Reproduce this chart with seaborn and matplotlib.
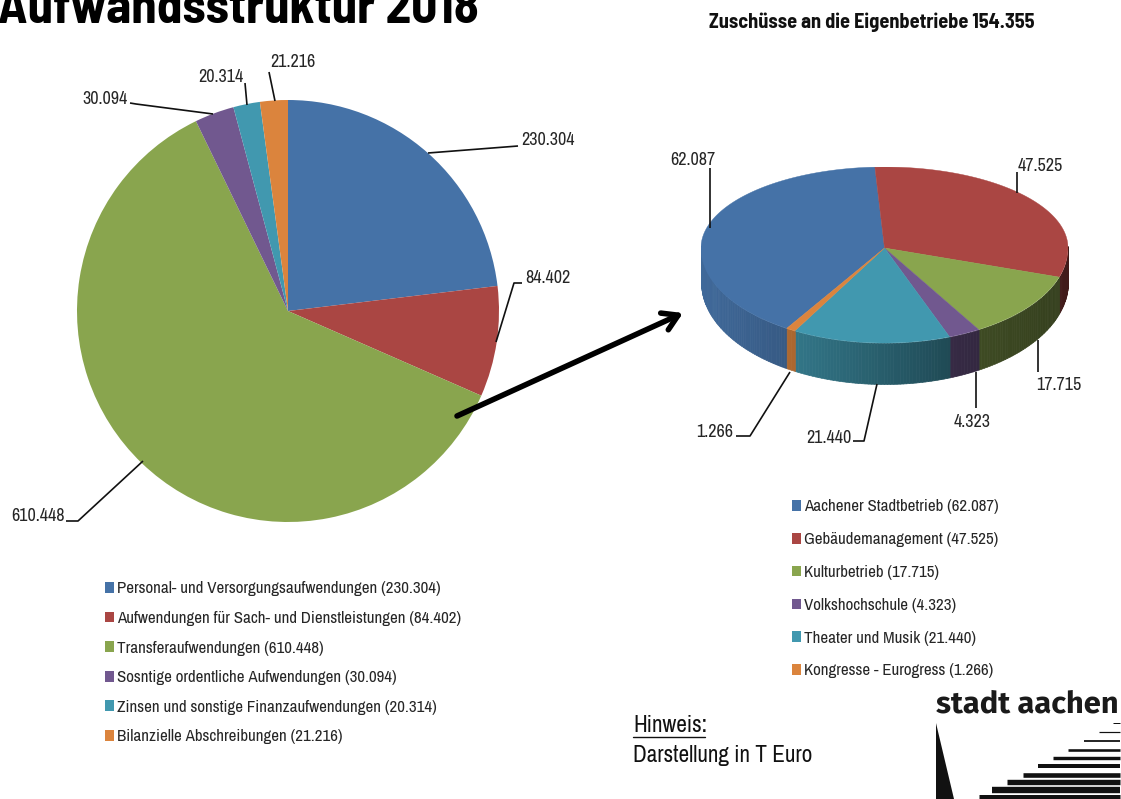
#!/usr/bin/env python3
import numpy as np
import matplotlib
matplotlib.use("Agg")
import matplotlib.pyplot as plt
import seaborn as sns
from matplotlib.patches import Patch

W, H = 1121, 799

# left pie
left_labels = ["Personal- und Versorgungsaufwendungen", "Aufwendungen für Sach- und Dienstleistungen",
               "Transferaufwendungen", "Sosntige ordentliche Aufwendungen",
               "Zinsen und sonstige Finanzaufwendungen", "Bilanzielle Abschreibungen"]
left_values = [230.304, 84.402, 610.448, 30.094, 20.314, 21.216]

# right pie
right_labels = ["Aachener Stadtbetrieb", "Gebäudemanagement", "Kulturbetrieb",
                "Volkshochschule", "Theater und Musik", "Kongresse - Eurogress"]
right_values = [62.087, 47.525, 17.715, 4.323, 21.440, 1.266]

colors = ["#4572A7", "#AA4643", "#89A54E", "#71588F", "#4198AF", "#DB843D"]


def fmt(v):
    return f"{v:.3f}"


def box(fig, x0, y0, x1, y1):
    # axes from pixel box, y measured from the top
    return fig.add_axes([x0 / W, 1 - y1 / H, (x1 - x0) / W, (y1 - y0) / H])


sns.set_theme(style="white")
plt.rcParams["font.family"] = ["Archivo Narrow", "Liberation Sans"]
palette = sns.color_palette(colors)
bold_font = ["Barlow Semi Condensed", "Liberation Sans"]

fig = plt.figure(figsize=(W / 100, H / 100), dpi=100, facecolor="white")

# -------- left pie --------
ax_l = box(fig, 77, 100, 499, 522)
wedges, _ = ax_l.pie(left_values, colors=palette, startangle=90, counterclock=False,
                     radius=1, wedgeprops={"linewidth": 0})
ax_l.set_xlim(-1, 1)
ax_l.set_ylim(-1, 1)

# -------- right pie, tilted with a side wall --------
# x in radii, y in pixels above the apex; the near half is a bit deeper (perspective)
ax_r = box(fig, 701, 167, 1068, 385)
ry_far, ry_near = 81.0, 95.0
ax_r.set_xlim(-1, 1)
ax_r.set_ylim(-137, 81)
ax_r.set_axis_off()


def tilt_y(t):
    s = np.sin(t)
    return s * np.where(s > 0, ry_far, ry_near)


fracs = np.array(right_values) / sum(right_values)
# the red/blue border sits just left of 12 o'clock, slices run clockwise
start = np.radians(93.0) + 2 * np.pi * fracs[0]
edges = start - 2 * np.pi * np.concatenate([[0], np.cumsum(fracs)])
for col, a0, a1 in zip(palette, edges[:-1], edges[1:]):
    t = np.linspace(a0, a1, max(int(np.degrees(a0 - a1)), 2) + 1)
    # wall, shaded left to right
    for s0, s1 in zip(t[:-1], t[1:]):
        if np.sin((s0 + s1) / 2) > 0.03:
            continue
        pair = np.array([s1, s0])
        xs = np.cos(pair)
        ys = tilt_y(pair)
        dep = 34 + 7 * np.abs(np.sin(pair))
        shade = np.interp(xs.mean(), [-1, -0.5, 0.4, 1], [0.92, 0.78, 0.47, 0.38])
        c = tuple(v * shade for v in col)
        ax_r.fill_between(xs, ys - dep, ys, color=c, linewidth=0.5, antialiased=False, zorder=1)
for col, a0, a1 in zip(palette, edges[:-1], edges[1:]):
    t = np.linspace(a0, a1, 200)
    ax_r.fill(np.r_[0, np.cos(t)], np.r_[0, tilt_y(t)], color=col, linewidth=0.3, zorder=2)

# -------- pixel overlay for texts, leaders, logo --------
ax = fig.add_axes([0, 0, 1, 1], facecolor="none")
ax.set_xlim(0, W)
ax.set_ylim(H, 0)
ax.set_axis_off()

ax.text(-2, 23, "Aufwandsstruktur 2018", family=bold_font, fontsize=36.9, fontweight="bold",
        color="black", va="baseline", ha="left")
ax.text(709, 22, "Zuschüsse an die Eigenbetriebe 154.355", family=bold_font, fontsize=14.6,
        fontweight="bold", color="#111111", va="center", ha="left")

lab_col = "#262626"
left_pos = [(521, 140), (525, 278), (11, 516), (82, 99), (198, 77), (270, 62)]
right_pos = [(670, 160), (1018, 166), (1036, 385), (954, 422), (806, 438), (696, 432)]
for vals, pos in [(left_values, left_pos), (right_values, right_pos)]:
    for v, (x, y) in zip(vals, pos):
        ax.text(x, y, fmt(v), fontsize=13, color=lab_col, ha="left", va="center")

leaders = [
    [(428, 153), (518, 146)],
    [(522, 283), (514, 283), (496, 342)],
    [(66, 521), (78, 521), (143, 461)],
    [(130, 103), (136, 104), (213, 114)],
    [(245, 83), (247, 105)],
    [(269, 72), (275, 101)],
    [(710, 168), (710, 228)],
    [(1017, 172), (1017, 193)],
    [(1038, 340), (1038, 372)],
    [(976, 372), (976, 408)],
    [(877, 384), (864, 441), (853, 441)],
    [(790, 372), (750, 436), (736, 436)],
]
for pts in leaders:
    xs, ys = zip(*pts)
    ax.plot(xs, ys, color="#111111", lw=1.2, solid_capstyle="butt")

ax.annotate("", xy=(683, 313), xytext=(457, 416),
            arrowprops=dict(arrowstyle="->,head_length=0.9,head_width=0.55", lw=4,
                            color="black", shrinkA=0, shrinkB=0))

# legends
for labs, vals, x, y, sp in [(left_labels, left_values, 105, 581.5, 0.86),
                             (right_labels, right_values, 792, 499.5, 1.05)]:
    handles = [Patch(facecolor=c, edgecolor="none") for c in palette]
    texts = [f"{a} ({fmt(b)})" for a, b in zip(labs, vals)]
    fig.legend(handles, texts, loc="upper left", bbox_to_anchor=(x / W, 1 - y / H),
               frameon=False, fontsize=12.2, labelcolor=lab_col, handlelength=0.55,
               handleheight=0.6, handletextpad=0.18, labelspacing=sp,
               borderpad=0, borderaxespad=0)

# note
ax.text(633, 726, "Hinweis:", fontsize=16.7, color="#111111", ha="left", va="center")
ax.plot([633, 705], [737, 737], color="#111111", lw=1)
ax.text(633, 755, "Darstellung in T Euro", fontsize=16.7, color="#111111", ha="left", va="center")

# logo
ax.text(1119, 704, "stadt aachen", family=["Fira Sans", "Open Sans"], fontsize=22.3, fontweight="bold",
        color="#1a1a1a", ha="right", va="center")
ax.fill([936, 936, 954], [723, 799, 799], color="#111111", linewidth=0)
bars_y = [723, 732, 741, 750, 758, 766, 774.5, 782, 790, 797]
bars_x = [1113, 1099, 1084, 1068, 1053, 1038, 1023, 1007, 992, 979]
bars_t = [1, 1.2, 1.8, 2.6, 3.4, 4, 4.6, 5.4, 6.4, 5]
ax.hlines(bars_y, bars_x, 1120, color="#111111", lw=[t * 0.72 for t in bars_t])

fig.savefig("out.png", dpi=100)
